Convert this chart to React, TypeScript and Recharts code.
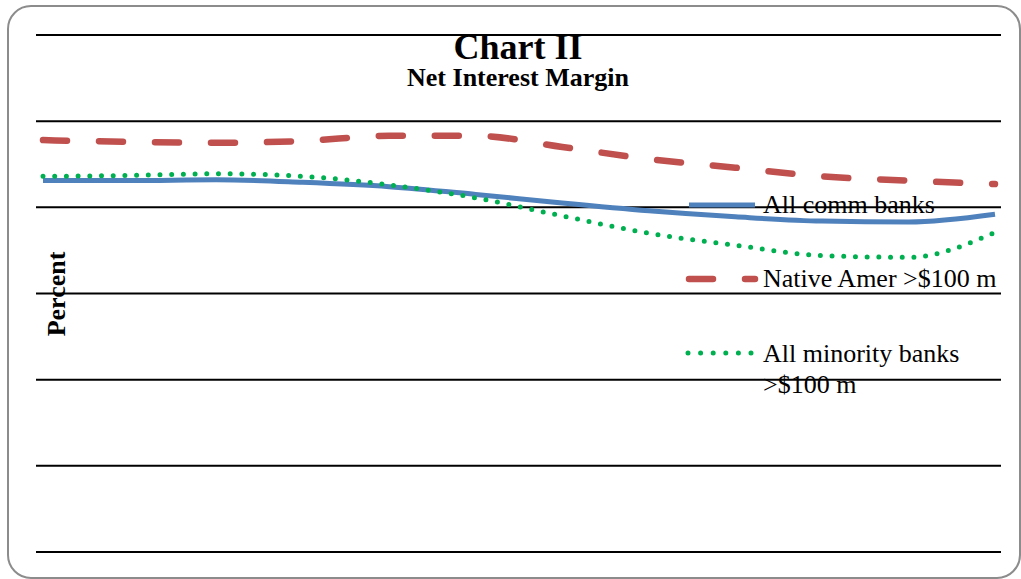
import React from 'react';
import { LineChart, Line, XAxis, YAxis, ReferenceLine } from 'recharts';

const categories = ['P1', 'P2', 'P3', 'P4', 'P5', 'P6', 'P7', 'P8', 'P9', 'P10', 'P11', 'P12'];
const allCommBanks = [4.31, 4.31, 4.32, 4.29, 4.24, 4.15, 4.05, 3.96, 3.89, 3.84, 3.83, 3.92];
const nativeAmer = [4.78, 4.76, 4.75, 4.77, 4.83, 4.83, 4.7, 4.56, 4.46, 4.36, 4.31, 4.27];
const allMinority = [4.36, 4.37, 4.39, 4.36, 4.26, 4.11, 3.9, 3.7, 3.56, 3.44, 3.42, 3.71];
const yTicks = [0, 1, 2, 3, 4, 5, 6];

const seriesNames = ['All comm banks', 'Native Amer >$100 m', 'All minority banks'];

const data = categories.map((c, i) => ({
  cat: c,
  comm: allCommBanks[i],
  native: nativeAmer[i],
  minority: allMinority[i],
}));

const serif = "'Liberation Serif', 'Times New Roman', serif";

export default function App() {
  return (
    <div style={{ position: 'absolute', left: 0, top: 0, width: 1021, height: 579, overflow: 'hidden', background: '#fff' }}>
      <div
        style={{
          position: 'absolute',
          left: 7,
          top: 5,
          width: 1014,
          height: 574,
          boxSizing: 'border-box',
          border: '2px solid #8c8c8c',
          borderRadius: 24,
        }}
      />
      <div style={{ position: 'absolute', left: 0, top: 0 }}>
        <LineChart width={1021} height={579} data={data} margin={{ top: 35, right: 20, bottom: 27, left: 36 }}>
          <XAxis dataKey="cat" hide padding={{ left: 7, right: 6 }} />
          <YAxis domain={[0, 6]} ticks={yTicks} hide />
          {yTicks.map((t) => (
            <ReferenceLine key={t} y={t} stroke="#000" strokeWidth={2} ifOverflow="extendDomain" />
          ))}
          <Line
            type="monotone"
            dataKey="native"
            name={seriesNames[1]}
            stroke="#C0504D"
            strokeWidth={6.5}
            strokeDasharray="24 32"
            strokeLinecap="round"
            dot={false}
            isAnimationActive={false}
          />
          <Line
            type="monotone"
            dataKey="comm"
            name={seriesNames[0]}
            stroke="#4F81BD"
            strokeWidth={5}
            dot={false}
            isAnimationActive={false}
          />
          <Line
            type="monotone"
            dataKey="minority"
            name={seriesNames[2]}
            stroke="#00B050"
            strokeWidth={5}
            strokeDasharray="0 11.7"
            strokeLinecap="round"
            dot={false}
            isAnimationActive={false}
          />
        </LineChart>
      </div>
      <svg width={1021} height={579} style={{ position: 'absolute', left: 0, top: 0, pointerEvents: 'none' }}>
        <text x={518} y={59} textAnchor="middle" fontFamily={serif} fontWeight="bold" fontSize={36} fill="#000">
          Chart II
        </text>
        <text x={518} y={86} textAnchor="middle" fontFamily={serif} fontWeight="bold" fontSize={26} fill="#000">
          Net Interest Margin
        </text>
        <text
          x={0}
          y={0}
          transform="translate(65,294) rotate(-90)"
          textAnchor="middle"
          fontFamily={serif}
          fontWeight="bold"
          fontSize={26}
          fill="#000"
        >
          Percent
        </text>
        {/* legend */}
        <line x1={689} y1={205} x2={755} y2={205} stroke="#4F81BD" strokeWidth={5} />
        <text x={763} y={213} fontFamily={serif} fontSize={26} fill="#000">{seriesNames[0]}</text>
        <line x1={689} y1={279} x2={755} y2={279} stroke="#C0504D" strokeWidth={6.5} strokeDasharray="24 32" strokeLinecap="round" />
        <text x={763} y={287} fontFamily={serif} fontSize={26} fill="#000">{seriesNames[1]}</text>
        <line x1={688} y1={353} x2={752} y2={353} stroke="#00B050" strokeWidth={5} strokeDasharray="0 12.6" strokeLinecap="round" />
        <text x={763} y={362} fontFamily={serif} fontSize={26} fill="#000">All minority banks</text>
        <text x={763} y={393} fontFamily={serif} fontSize={26} fill="#000">&gt;$100 m</text>
      </svg>
    </div>
  );
}
